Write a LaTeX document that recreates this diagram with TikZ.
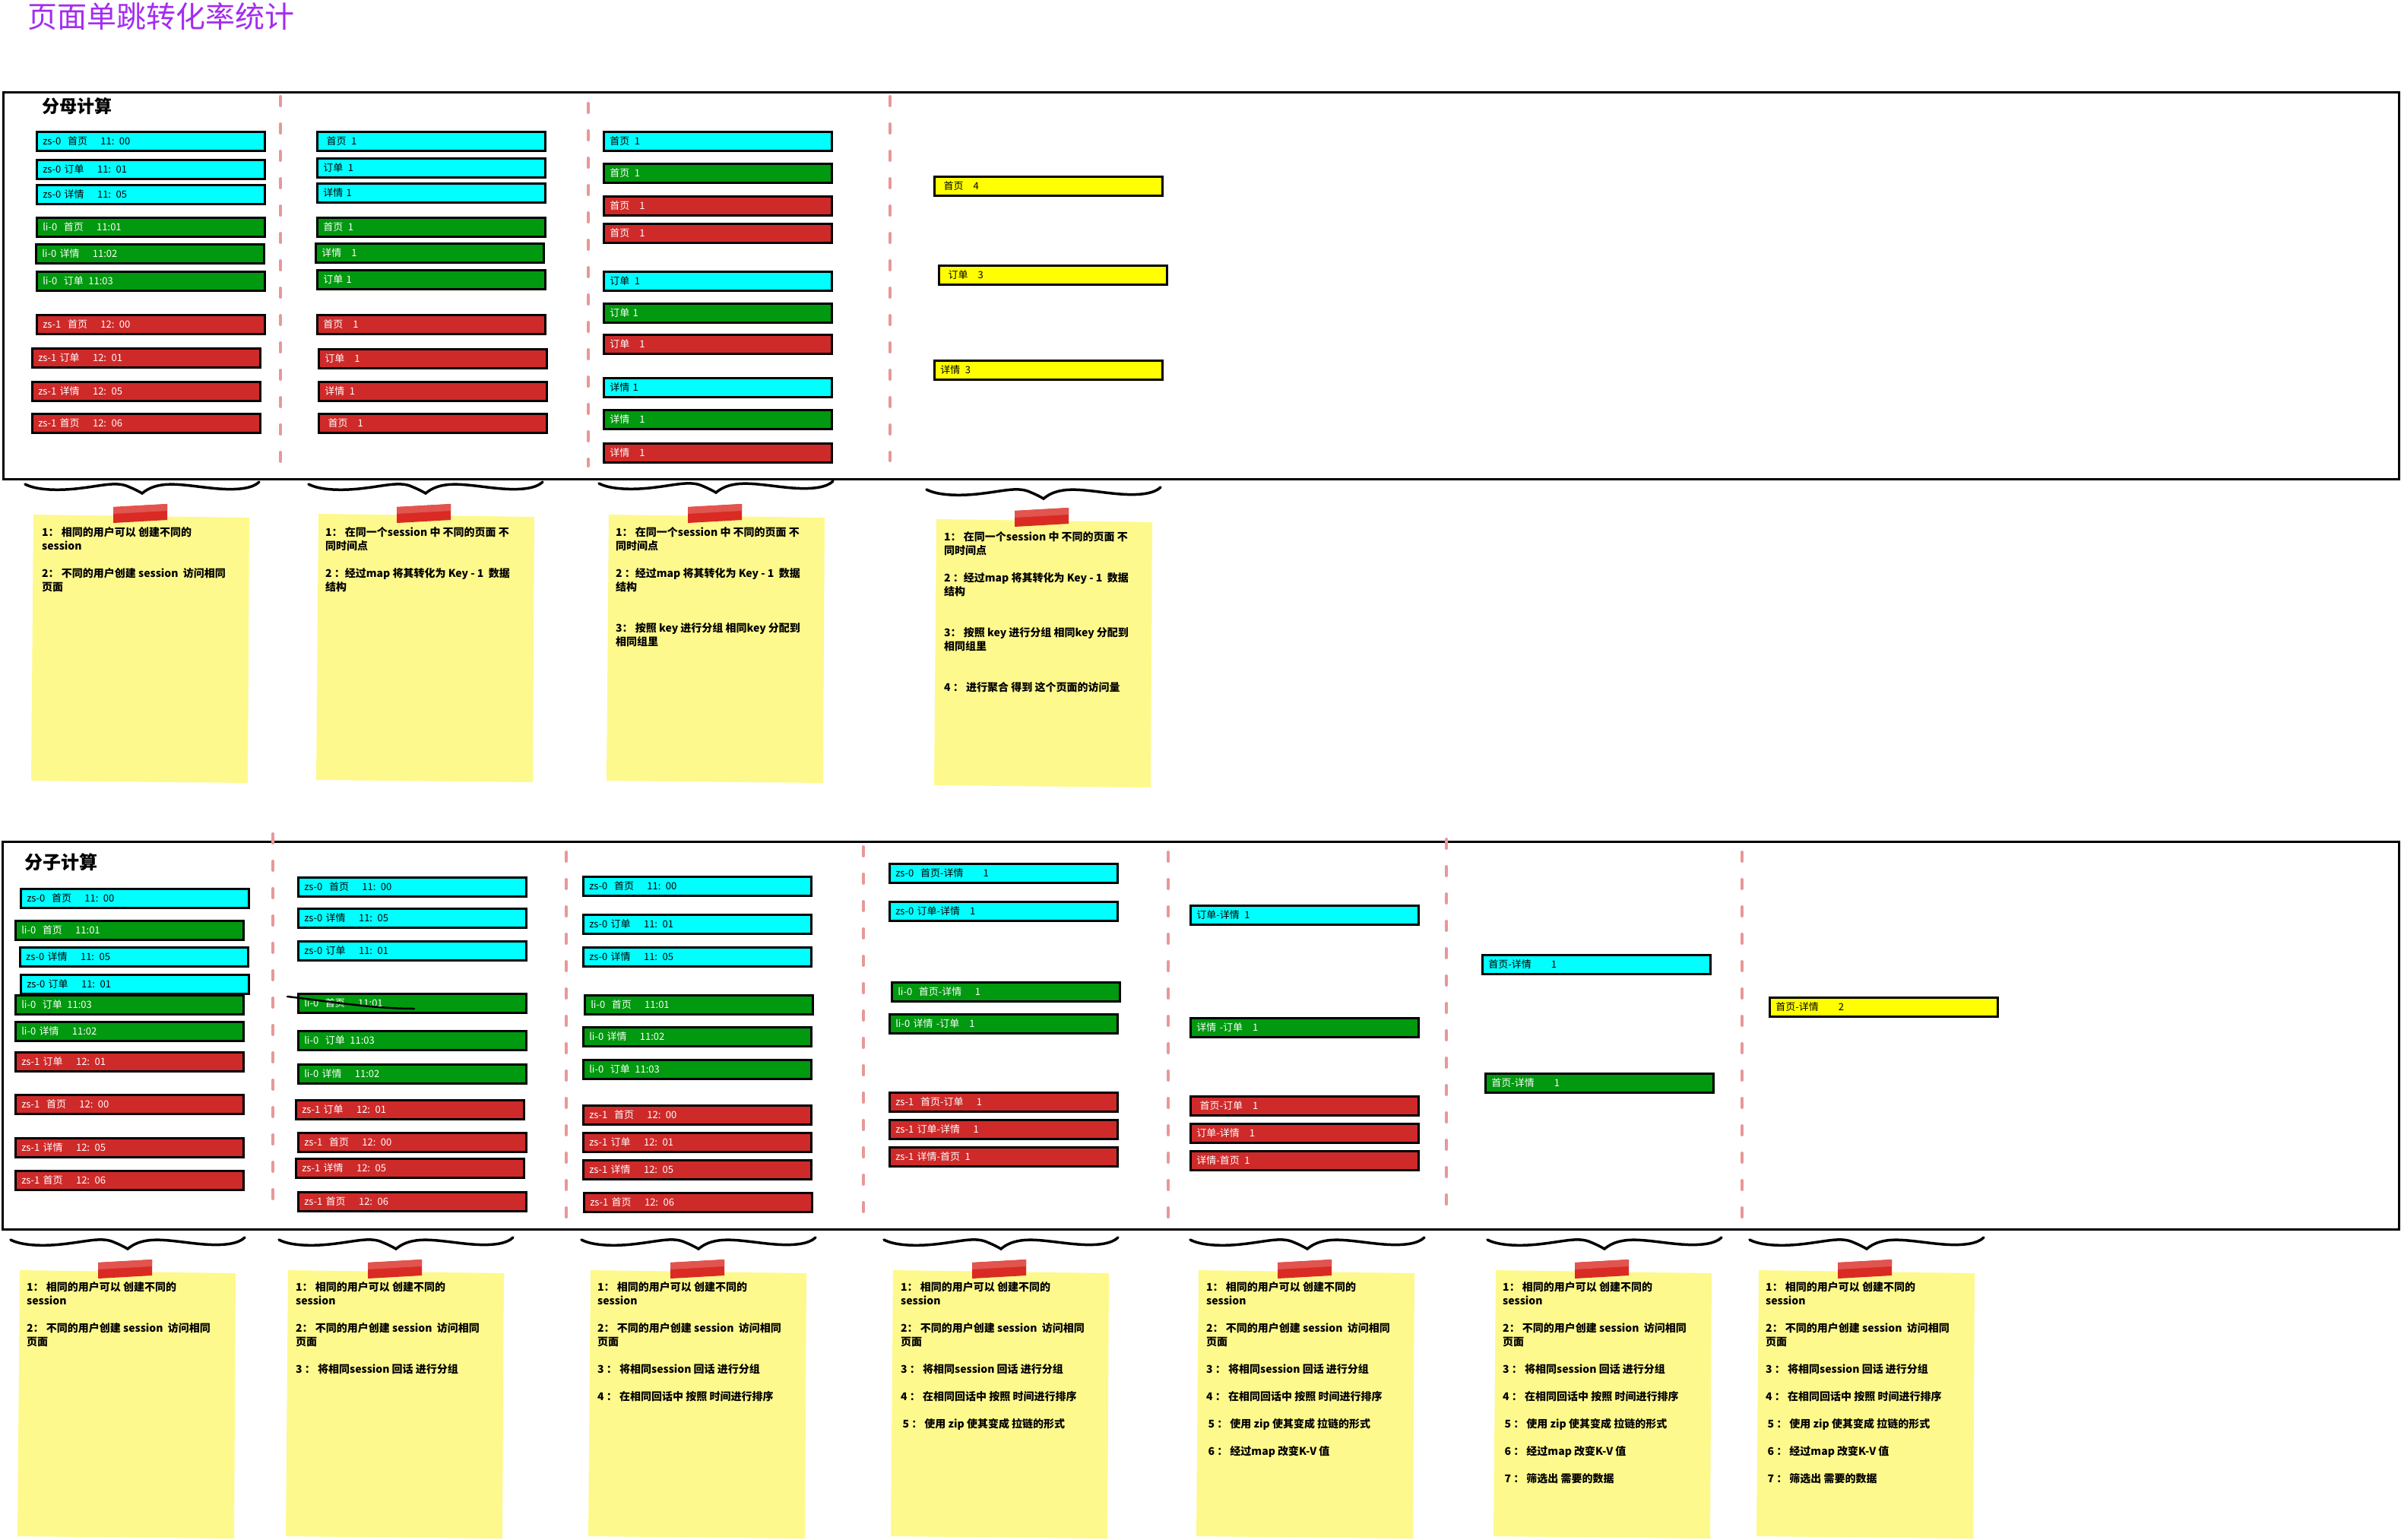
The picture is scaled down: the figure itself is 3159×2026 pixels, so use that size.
\documentclass[tikz,border=0pt]{standalone}
\usepackage{fontspec}
\setmainfont{Noto Sans CJK SC}

\definecolor{barcyan}{RGB}{0,255,255}
\definecolor{bargreen}{RGB}{0,153,15}
\definecolor{barred}{RGB}{207,42,42}
\definecolor{baryellow}{RGB}{255,255,0}
\definecolor{notefill}{RGB}{254,249,140}
\definecolor{notelight}{RGB}{255,251,165}
\definecolor{tapedark}{RGB}{218,42,36}
\definecolor{tapelight}{RGB}{226,84,78}
\definecolor{divider}{RGB}{232,152,152}
\definecolor{titlepurple}{RGB}{163,44,240}

\newcommand\barfont{\fontsize{13}{15}\selectfont}
\newcommand\notefont{\bfseries\fontsize{14}{18}\selectfont}
\newcommand\databar[5]{\node[#2] (#1) at (#3,#4) {#5};}

\tikzset{
  databox/.style={draw=black, line width=2.5pt, anchor=north west,
    minimum height=25pt, text width=284pt, inner xsep=8pt, inner ysep=0pt,
    align=left, font=\barfont},
  cy/.style={databox, fill=barcyan, text=black},
  gr/.style={databox, fill=bargreen, text=white},
  rd/.style={databox, fill=barred, text=white},
  yl/.style={databox, fill=baryellow, text=black},
  frame/.style={draw=black, line width=3pt},
  divline/.style={draw=divider, line width=4pt, line cap=round,
    dash pattern=on 12pt off 24pt},
  notetext/.style={anchor=north west, inner sep=0pt, align=left,
    font=\notefont, text=black},
  sectitle/.style={font=\bfseries\fontsize{23}{26}\selectfont, text=black, inner sep=0pt},
  curlbrace/.pic={
    \draw[line width=3.5pt, line cap=round]
      (0,3) .. controls (15,11) and (45,12) .. (75,8)
      .. controls (100,5) and (118,0) .. (133,5)
      .. controls (143,9) and (149,12) .. (154,15)
      .. controls (159,11) and (166,6) .. (180,4)
      .. controls (200,1) and (228,7) .. (255,9)
      .. controls (282,11) and (300,8) .. (308,0);
  },
  stickynote/.pic={
    \fill[notefill] (3,0) -- (287,4) -- (285,353) -- (0,350) -- cycle;
  },
  tape/.pic={
    \fill[tapedark] (0,4) -- (71,0) -- (71,21) -- (0,25) -- cycle;
    \fill[tapelight] (0,4) -- (71,0) -- (71,9) -- (0,13) -- cycle;
  }
}

\begin{document}
\begin{tikzpicture}[x=1pt,y=-1pt]
\fill[white] (0,0) rectangle (3159,2026);
\useasboundingbox (0,0) rectangle (3159,2026);

% heading
\node[anchor=west, inner sep=0pt, text=titlepurple,
      font=\fontsize{39}{42}\selectfont] (title) at (36,22) {页面单跳转化率统计};

% ---------------- denominator panel ----------------
\draw[frame] (4,121) rectangle (3156,630);
\node[sectitle] (dentitle) at (101,140) {分母计算};
\draw[divline] (369,127) -- (369,607);
\draw[divline] (774,136) -- (774,613);
\draw[divline] (1171,127) -- (1171,606);

% raw records
\databar{d11}{cy}{47}{172}{zs-0~~首页\quad~11: 00}
\databar{d12}{cy}{47}{209}{zs-0 订单\quad~11: 01}
\databar{d13}{cy}{47}{242}{zs-0 详情\quad~11: 05}
\databar{d14}{gr}{47}{285}{li-0~~首页\quad~11:01}
\databar{d15}{gr}{46}{320}{li-0 详情\quad~11:02}
\databar{d16}{gr}{47}{356}{li-0~~订单\enspace 11:03}
\databar{d17}{rd}{47}{413}{zs-1~~首页\quad~12: 00}
\databar{d18}{rd}{41}{457}{zs-1 订单\quad~12: 01}
\databar{d19}{rd}{41}{501}{zs-1 详情\quad~12: 05}
\databar{d110}{rd}{41}{543}{zs-1 首页\quad~12: 06}

% page -> 1
\databar{d21}{cy}{416}{172}{~首页\enspace 1}
\databar{d22}{cy}{416}{207}{订单\enspace 1}
\databar{d23}{cy}{416}{240}{详情 1}
\databar{d24}{gr}{416}{285}{首页\enspace 1}
\databar{d25}{gr}{414}{319}{详情\quad 1}
\databar{d26}{gr}{416}{354}{订单 1}
\databar{d27}{rd}{416}{413}{首页\quad 1}
\databar{d28}{rd}{418}{458}{订单\quad 1}
\databar{d29}{rd}{418}{501}{详情\enspace 1}
\databar{d210}{rd}{418}{543}{~首页\quad 1}

% grouped by key
\databar{d31}{cy}{793}{172}{首页\enspace 1}
\databar{d32}{gr}{793}{214}{首页\enspace 1}
\databar{d33}{rd}{793}{257}{首页\quad 1}
\databar{d34}{rd}{793}{293}{首页\quad 1}
\databar{d35}{cy}{793}{356}{订单\enspace 1}
\databar{d36}{gr}{793}{398}{订单 1}
\databar{d37}{rd}{793}{439}{订单\quad 1}
\databar{d38}{cy}{793}{496}{详情 1}
\databar{d39}{gr}{793}{538}{详情\quad 1}
\databar{d310}{rd}{793}{582}{详情\quad 1}

% aggregated
\databar{d41}{yl}{1228}{231}{~首页\quad 4}
\databar{d42}{yl}{1234}{348}{~订单\quad 3}
\databar{d43}{yl}{1228}{473}{详情\enspace 3}

% braces and notes
\pic at (33,634) {curlbrace};
\pic at (406,634) {curlbrace};
\pic at (788,633) {curlbrace};
\pic at (1219,641) {curlbrace};

\pic at (41,677) {stickynote};
\pic at (416,676) {stickynote};
\pic at (798,677) {stickynote};
\pic at (1229,683) {stickynote};
\pic at (149,663) {tape};
\pic at (522,663) {tape};
\pic at (905,663) {tape};
\pic at (1335,668) {tape};

\node[notetext] (dn1) at (55,693) {1： 相同的用户可以 创建不同的\\ session\\[18pt]
  2： 不同的用户创建 session~ 访问相同\\ 页面};
\node[notetext] (dn2) at (428,693) {1： 在同一个session 中 不同的页面 不\\ 同时间点\\[18pt]
  2 ：经过map 将其转化为 Key - 1~ 数据\\ 结构};
\node[notetext] (dn3) at (810,693) {1： 在同一个session 中 不同的页面 不\\ 同时间点\\[18pt]
  2 ：经过map 将其转化为 Key - 1~ 数据\\ 结构\\[36pt]
  3： 按照 key 进行分组 相同key 分配到\\ 相同组里};
\node[notetext] (dn4) at (1242,699) {1： 在同一个session 中 不同的页面 不\\ 同时间点\\[18pt]
  2 ：经过map 将其转化为 Key - 1~ 数据\\ 结构\\[36pt]
  3： 按照 key 进行分组 相同key 分配到\\ 相同组里\\[36pt]
  4 ： 进行聚合 得到 这个页面的访问量};

% ---------------- numerator panel ----------------
\draw[frame] (3,1107) rectangle (3156,1617);
\node[sectitle, font=\bfseries\fontsize{24}{26}\selectfont] (numtitle) at (80,1134) {分子计算};
\draw[divline] (359,1097) -- (359,1580);
\draw[divline] (745,1121) -- (745,1604);
\draw[divline] (1136,1114) -- (1136,1597);
\draw[divline] (1537,1121) -- (1537,1604);
\draw[divline] (1903,1104) -- (1903,1587);
\draw[divline] (2292,1121) -- (2292,1604);

% raw records
\databar{n11}{cy}{26}{1168}{zs-0~~首页\quad~11: 00}
\databar{n12}{gr}{19}{1210}{li-0~~首页\quad~11:01}
\databar{n13}{cy}{25}{1245}{zs-0 详情\quad~11: 05}
\databar{n14}{cy}{26}{1281}{zs-0 订单\quad~11: 01}
\databar{n15}{gr}{19}{1308}{li-0~~订单\enspace 11:03}
\databar{n16}{gr}{19}{1343}{li-0 详情\quad~11:02}
\databar{n17}{rd}{19}{1383}{zs-1 订单\quad~12: 01}
\databar{n18}{rd}{19}{1439}{zs-1~~首页\quad~12: 00}
\databar{n19}{rd}{19}{1496}{zs-1 详情\quad~12: 05}
\databar{n110}{rd}{19}{1539}{zs-1 首页\quad~12: 06}

% grouped by session
\databar{n21}{cy}{391}{1153}{zs-0~~首页\quad~11: 00}
\databar{n22}{cy}{391}{1194}{zs-0 详情\quad~11: 05}
\databar{n23}{cy}{391}{1237}{zs-0 订单\quad~11: 01}
\databar{n24}{gr}{391}{1306}{li-0~~首页\quad~11:01}
\databar{n25}{gr}{391}{1355}{li-0~~订单\enspace 11:03}
\databar{n26}{gr}{391}{1399}{li-0 详情\quad~11:02}
\databar{n27}{rd}{388}{1446}{zs-1 订单\quad~12: 01}
\databar{n28}{rd}{391}{1489}{zs-1~~首页\quad~12: 00}
\databar{n29}{rd}{388}{1523}{zs-1 详情\quad~12: 05}
\databar{n210}{rd}{391}{1567}{zs-1 首页\quad~12: 06}
\draw[line width=2.5pt, line cap=round] (378,1311) .. controls (430,1317) and (490,1327) .. (545,1327);

% sorted by time
\databar{n31}{cy}{766}{1152}{zs-0~~首页\quad~11: 00}
\databar{n32}{cy}{766}{1202}{zs-0 订单\quad~11: 01}
\databar{n33}{cy}{766}{1245}{zs-0 详情\quad~11: 05}
\databar{n34}{gr}{768}{1308}{li-0~~首页\quad~11:01}
\databar{n35}{gr}{766}{1350}{li-0 详情\quad~11:02}
\databar{n36}{gr}{766}{1393}{li-0~~订单\enspace 11:03}
\databar{n37}{rd}{766}{1453}{zs-1~~首页\quad~12: 00}
\databar{n38}{rd}{766}{1489}{zs-1 订单\quad~12: 01}
\databar{n39}{rd}{766}{1525}{zs-1 详情\quad~12: 05}
\databar{n310}{rd}{767}{1568}{zs-1 首页\quad~12: 06}

% zipped pairs
\databar{n41}{cy}{1169}{1135}{zs-0~~首页-详情\qquad 1}
\databar{n42}{cy}{1169}{1185}{zs-0 订单-详情\quad 1}
\databar{n43}{gr}{1172}{1291}{li-0~~首页-详情\quad~1}
\databar{n44}{gr}{1169}{1333}{li-0 详情 -订单\quad 1}
\databar{n45}{rd}{1169}{1436}{zs-1~~首页-订单\quad~1}
\databar{n46}{rd}{1169}{1472}{zs-1 订单-详情\quad~1}
\databar{n47}{rd}{1169}{1508}{zs-1 详情-首页\enspace 1}

% pairs as key-value
\databar{n51}{cy}{1565}{1190}{订单-详情\enspace 1}
\databar{n52}{gr}{1565}{1338}{详情 -订单\quad 1}
\databar{n53}{rd}{1565}{1441}{~首页-订单\quad 1}
\databar{n54}{rd}{1565}{1477}{订单-详情\quad 1}
\databar{n55}{rd}{1565}{1513}{详情-首页\enspace 1}

% filtered
\databar{n61}{cy}{1949}{1255}{首页-详情\qquad 1}
\databar{n62}{gr}{1953}{1411}{首页-详情\qquad 1}

% counted
\databar{n71}{yl}{2327}{1311}{首页-详情\qquad 2}

% braces and notes
\pic at (14,1628) {curlbrace};
\pic at (367,1628) {curlbrace};
\pic at (765,1628) {curlbrace};
\pic at (1163,1628) {curlbrace};
\pic at (1566,1628) {curlbrace};
\pic at (1957,1628) {curlbrace};
\pic at (2302,1628) {curlbrace};

\pic at (23,1671) {stickynote};
\pic at (376,1671) {stickynote};
\pic at (774,1671) {stickynote};
\pic at (1172,1671) {stickynote};
\pic at (1574,1671) {stickynote};
\pic at (1965,1671) {stickynote};
\pic at (2311,1671) {stickynote};
\pic at (129,1657) {tape};
\pic at (484,1657) {tape};
\pic at (882,1657) {tape};
\pic at (1279,1657) {tape};
\pic at (1681,1657) {tape};
\pic at (2072,1657) {tape};
\pic at (2418,1657) {tape};

\node[notetext] (nn1) at (35,1686) {1： 相同的用户可以 创建不同的\\ session\\[18pt]
  2： 不同的用户创建 session~ 访问相同\\ 页面};
\node[notetext] (nn2) at (389,1686) {1： 相同的用户可以 创建不同的\\ session\\[18pt]
  2： 不同的用户创建 session~ 访问相同\\ 页面\\[18pt]
  3 ： 将相同session 回话 进行分组};
\node[notetext] (nn3) at (786,1686) {1： 相同的用户可以 创建不同的\\ session\\[18pt]
  2： 不同的用户创建 session~ 访问相同\\ 页面\\[18pt]
  3 ： 将相同session 回话 进行分组\\[18pt]
  4 ： 在相同回话中 按照 时间进行排序};
\node[notetext] (nn4) at (1185,1686) {1： 相同的用户可以 创建不同的\\ session\\[18pt]
  2： 不同的用户创建 session~ 访问相同\\ 页面\\[18pt]
  3 ： 将相同session 回话 进行分组\\[18pt]
  4 ： 在相同回话中 按照 时间进行排序\\[18pt]
  \,5 ： 使用 zip 使其变成 拉链的形式};
\node[notetext] (nn5) at (1587,1686) {1： 相同的用户可以 创建不同的\\ session\\[18pt]
  2： 不同的用户创建 session~ 访问相同\\ 页面\\[18pt]
  3 ： 将相同session 回话 进行分组\\[18pt]
  4 ： 在相同回话中 按照 时间进行排序\\[18pt]
  \,5 ： 使用 zip 使其变成 拉链的形式\\[18pt]
  \,6 ： 经过map 改变K-V 值};
\node[notetext] (nn6) at (1977,1686) {1： 相同的用户可以 创建不同的\\ session\\[18pt]
  2： 不同的用户创建 session~ 访问相同\\ 页面\\[18pt]
  3 ： 将相同session 回话 进行分组\\[18pt]
  4 ： 在相同回话中 按照 时间进行排序\\[18pt]
  \,5 ： 使用 zip 使其变成 拉链的形式\\[18pt]
  \,6 ： 经过map 改变K-V 值\\[18pt]
  \,7 ： 筛选出 需要的数据};
\node[notetext] (nn7) at (2323,1686) {1： 相同的用户可以 创建不同的\\ session\\[18pt]
  2： 不同的用户创建 session~ 访问相同\\ 页面\\[18pt]
  3 ： 将相同session 回话 进行分组\\[18pt]
  4 ： 在相同回话中 按照 时间进行排序\\[18pt]
  \,5 ： 使用 zip 使其变成 拉链的形式\\[18pt]
  \,6 ： 经过map 改变K-V 值\\[18pt]
  \,7 ： 筛选出 需要的数据};
\end{tikzpicture}
\end{document}
